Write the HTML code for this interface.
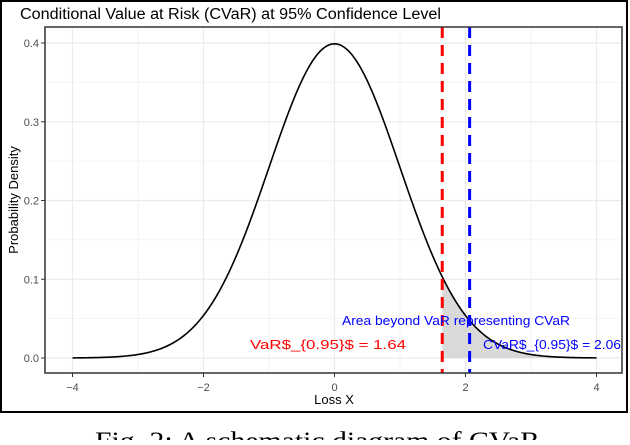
<!DOCTYPE html>
<html><head><meta charset="utf-8"><style>
body{margin:0;background:#fff;width:630px;height:440px;overflow:hidden}
svg text{font-family:"Liberation Sans",sans-serif}
</style></head><body>
<svg width="630" height="440">
<rect x="1" y="1" width="626" height="411" fill="#fff" stroke="#000" stroke-width="2"/>
<text x="20" y="19" font-size="15.5" fill="#000" textLength="421" lengthAdjust="spacingAndGlyphs">Conditional Value at Risk (CVaR) at 95% Confidence Level</text>
<g id="grid"></g>
<g id="marks"></g>
<rect x="45" y="27" width="577" height="346" fill="none" stroke="#333" stroke-width="1.5"/>
<g id="axes"></g>
<text x="334" y="404" font-size="13" text-anchor="middle">Loss X</text>
<text transform="translate(18,200) rotate(-90)" font-size="13" text-anchor="middle">Probability Density</text>
<text x="250" y="349" font-size="12.5" fill="#ff0000" textLength="156" lengthAdjust="spacingAndGlyphs">VaR$_{0.95}$ = 1.64</text>
<text x="342" y="325" font-size="12.5" fill="#0000ff" textLength="228" lengthAdjust="spacingAndGlyphs">Area beyond VaR representing CVaR</text>
<text x="483" y="349" font-size="12.5" fill="#0000ff" textLength="138" lengthAdjust="spacingAndGlyphs">CVaR$_{0.95}$ = 2.06</text>
<text x="95" y="449" font-size="25" textLength="445" lengthAdjust="spacingAndGlyphs" style="font-family:'Liberation Serif',serif">Fig. 2: A schematic diagram of CVaR</text>
</svg>
<script>
const xTicks=[-4,-2,0,2,4];
const yTicks=[0,0.1,0.2,0.3,0.4];
const yTickLabels=["0.0","0.1","0.2","0.3","0.4"];
const varValue=1.645;
const cvarValue=2.063;
const xRange=[-4,4];
const sx=v=>334.5+v*65.5;
const sy=v=>358-v*787.5;
const NS="http://www.w3.org/2000/svg";
function mk(tag,attrs,parent){const e=document.createElementNS(NS,tag);for(const k in attrs)e.setAttribute(k,attrs[k]);document.getElementById(parent).appendChild(e);return e;}
for(let v=-5;v<=5;v+=1){const x=sx(v);if(x<45||x>622)continue;
 const l=mk('line',{x1:x,x2:x,y1:27,y2:373,stroke:'#ebebeb','stroke-width':v%2===0?1.2:0.6},'grid');
 
 }
for(let v=0;v<=0.45;v+=0.05){const y=sy(v);if(y<27)continue;
 const l=mk('line',{x1:45,x2:622,y1:y,y2:y,stroke:'#ebebeb','stroke-width':Math.round(v*100)%10===0?1.2:0.6},'grid');
 
 }
const pdf=x=>Math.exp(-x*x/2)/Math.sqrt(2*Math.PI);
let d='',sh='M'+sx(varValue)+','+sy(0);
for(let i=0;i<=400;i++){const x=xRange[0]+(xRange[1]-xRange[0])*i/400;d+=(i?'L':'M')+sx(x).toFixed(2)+','+sy(pdf(x)).toFixed(2);}
for(let i=0;i<=100;i++){const x=varValue+(xRange[1]-varValue)*i/100;sh+='L'+sx(x).toFixed(2)+','+sy(pdf(x)).toFixed(2);}
sh+='L'+sx(xRange[1])+','+sy(0)+'Z';
const a=mk('path',{d:sh,fill:'#d9d9d9'},'marks');


const c=mk('path',{d:d,fill:'none',stroke:'#000','stroke-width':1.6},'marks');


const v1=mk('line',{x1:sx(varValue),x2:sx(varValue),y1:27,y2:373,stroke:'#ff0000','stroke-width':3,'stroke-dasharray':'11,7'},'marks');


const v2=mk('line',{x1:sx(cvarValue),x2:sx(cvarValue),y1:27,y2:373,stroke:'#0000ff','stroke-width':3,'stroke-dasharray':'11,7'},'marks');


xTicks.forEach(v=>{const t=mk('text',{x:sx(v),y:391,'font-size':11,fill:'#4d4d4d','text-anchor':'middle'},'axes');t.textContent=v<0?'\u2212'+(-v):v;
 
 
 const k=mk('line',{x1:sx(v),x2:sx(v),y1:373,y2:377,stroke:'#333'},'axes');
 
 });
yTicks.forEach((v,i)=>{const t=mk('text',{x:39,y:sy(v)+4,'font-size':11,fill:'#4d4d4d','text-anchor':'end'},'axes');t.textContent=yTickLabels[i];
 
 
 const k=mk('line',{x1:41,x2:45,y1:sy(v),y2:sy(v),stroke:'#333'},'axes');
 
 });
</script>
</body></html>
